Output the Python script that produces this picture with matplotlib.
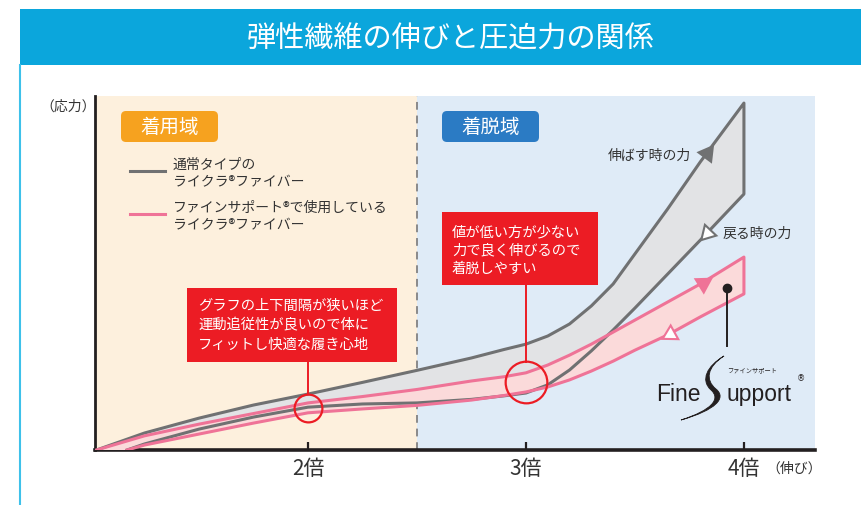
import numpy as np
import matplotlib.pyplot as plt
from matplotlib.patches import Rectangle, FancyBboxPatch, PathPatch
from matplotlib.path import Path

plt.rcParams['font.family'] = ['Noto Sans CJK JP', 'DejaVu Sans']

W, H = 862, 506

# 伸び (倍) / 応力 (relative 0-100)
x_pull = [1.03, 1.25, 1.5, 1.75, 2.0, 2.25, 2.5, 2.75, 2.9, 3.0, 3.1, 3.2, 3.3, 3.4, 3.5, 3.65, 3.8, 4.0]
lycra_pull = [0.0, 4.8, 9.0, 12.7, 15.8, 19.1, 22.5, 26.0, 28.4, 29.9, 32.2, 35.6, 40.7, 46.9, 55.4, 68.1, 81.4, 98.0]
fine_pull = [0.0, 4.0, 7.3, 10.3, 13.3, 15.1, 17.1, 19.5, 20.7, 21.8, 24.0, 26.8, 29.9, 33.3, 36.7, 41.8, 46.9, 54.5]

x_back = [1.17, 1.25, 1.5, 1.75, 2.0, 2.25, 2.5, 2.75, 2.9, 3.0, 3.1, 3.2, 3.3, 3.4, 3.5, 3.65, 3.8, 4.0]
lycra_back = [0.0, 1.7, 5.9, 9.3, 12.1, 13.0, 13.3, 14.3, 15.3, 16.1, 18.4, 22.6, 28.0, 33.9, 40.1, 49.7, 59.3, 72.3]
fine_back = [0.0, 1.4, 4.5, 7.6, 10.5, 11.6, 12.6, 14.1, 15.4, 16.4, 17.8, 19.8, 22.3, 25.1, 28.2, 32.5, 37.6, 44.1]

tick_pos = [2, 3, 4]
tick_labels = ['2倍', '3倍', '4倍']
zone_split = 2.5
callout_x = [2.0, 3.0]

GRAY = '#707172'
GRAY_FILL = '#e2e3e5'
PINK = '#ef7397'
PINK_FILL = '#fbdada'
RED = '#ec1c24'
TXT = '#333333'

fig = plt.figure(figsize=(W / 100, H / 100), dpi=100)
fig.patch.set_facecolor('white')

ax = fig.add_axes([95 / W, 1 - 451 / H, 720 / W, 354 / H])
ax.set_xlim(1.023, 4.326)
ax.set_ylim(0, 100)
ax.axvspan(1.023, zone_split, color='#fdf0dd', lw=0, zorder=0)
ax.axvspan(zone_split, 4.326, color='#dfebf7', lw=0, zorder=0)
ax.axvline(zone_split, color='#8a8a8a', lw=1.4, ls=(0, (4, 3)), zorder=1)

# bands: pull curve, vertical edge at 4倍, back curve
gx = x_pull + x_back[::-1]
gy = lycra_pull + lycra_back[::-1]
px_ = x_pull + x_back[::-1]
py_ = fine_pull + fine_back[::-1]
ax.fill(gx, gy, color=GRAY_FILL, lw=0, zorder=2)
ax.fill(px_, py_, color=PINK_FILL, lw=0, zorder=3)
ax.plot(gx, gy, color=GRAY, lw=2.2, zorder=4, solid_joinstyle='round')
ax.plot(px_, py_, color=PINK, lw=2.2, zorder=5, solid_joinstyle='round')


def arrow(xs, ys, x0, backward, fc, ec):
    y0 = np.interp(x0, xs, ys)
    y1 = np.interp(x0 + 0.02, xs, ys)
    p0 = ax.transData.transform((x0, y0))
    p1 = ax.transData.transform((x0 + 0.02, y1))
    ang = np.degrees(np.arctan2(p1[1] - p0[1], p1[0] - p0[0]))
    if backward:
        ang += 180
    ax.plot([x0], [y0], marker=(3, 0, ang - 90), ms=13, mfc=fc, mec=ec,
            mew=1.5, zorder=7, ls='none')


arrow(x_pull, lycra_pull, 3.83, False, GRAY, GRAY)
arrow(x_back, lycra_back, 3.83, True, 'white', GRAY)
arrow(x_pull, fine_pull, 3.81, False, PINK, PINK)
arrow(x_back, fine_back, 3.66, True, 'white', PINK)

# red circles + callout lines
box_bottoms = [25.1, 46.9]
for cx, size, bb in zip(callout_x, [20, 30], box_bottoms):
    cy = (np.interp(cx, x_pull, fine_pull) + np.interp(cx, x_back, fine_back)) / 2
    ax.plot([cx], [cy], marker='o', ms=size, mfc='none', mec=RED, mew=1.6, zorder=8)
    r = size / 0.72 / 2 / 3.54
    ax.plot([cx, cx], [cy + r, bb], color=RED, lw=1.4, zorder=8)

for s in ['top', 'right']:
    ax.spines[s].set_visible(False)
ax.spines['left'].set_linewidth(2)
ax.spines['left'].set_color('#231f20')
ax.spines['bottom'].set_linewidth(2.6)
ax.spines['bottom'].set_color('#231f20')
ax.set_yticks([])
ax.set_xticks(tick_pos)
ax.set_xticklabels(tick_labels, fontsize=15, color=TXT)
ax.tick_params(axis='x', direction='in', length=6, width=1.6, color='#231f20', pad=5)

# overlay in pixel coordinates for the decorations
ov = fig.add_axes([0, 0, 1, 1], zorder=10)
ov.set_xlim(0, W)
ov.set_ylim(H, 0)
ov.axis('off')

ov.add_patch(Rectangle((20, 10), W - 20, 56, color='#0ba6dc', lw=0))
ov.plot([20.5, 20.5], [66, H], color='#3ec1ea', lw=1.5)
ov.text(451, 40, '弾性繊維の伸びと圧迫力の関係', color='white', fontsize=21,
        ha='center', va='center')

ov.text(68, 107, '（応力）', fontsize=10, color=TXT, ha='center', va='center')
ov.text(794, 469, '（伸び）', fontsize=10, color=TXT, ha='center', va='center')

for x0, label, c in [(121, '着用域', '#f6a21f'), (442, '着脱域', '#2b7bc4')]:
    ov.add_patch(FancyBboxPatch((x0 + 5, 117), 87, 21, boxstyle='round,pad=5',
                                fc=c, ec='none'))
    ov.text(x0 + 48.5, 127.5, label, color='white', fontsize=14, ha='center', va='center')

# legend
ov.plot([130, 165], [172, 172], color=GRAY, lw=2.2)
ov.text(173, 165, '通常タイプの', fontsize=10, color=TXT, va='center')
ov.text(173, 182, 'ライクラ®ファイバー', fontsize=10, color=TXT, va='center')
ov.plot([130, 165], [215, 215], color=PINK, lw=2.2)
ov.text(173, 208, 'ファインサポート®で使用している', fontsize=10, color=TXT, va='center')
ov.text(173, 225, 'ライクラ®ファイバー', fontsize=10, color=TXT, va='center')

# callout boxes
ov.add_patch(Rectangle((187, 289), 210, 74, color=RED, lw=0))
for i, line in enumerate(['グラフの上下間隔が狭いほど', '運動追従性が良いので体に', 'フィットし快適な履き心地']):
    ov.text(198, 306 + 19.5 * i, line, color='white', fontsize=10.3, va='center')
ov.add_patch(Rectangle((442, 213), 156, 73, color=RED, lw=0))
for i, line in enumerate(['値が低い方が少ない', '力で良く伸びるので', '着脱しやすい']):
    ov.text(452, 232 + 18.5 * i, line, color='white', fontsize=10.3, va='center')

ov.text(691, 156, '伸ばす時の力', fontsize=10, color=TXT, ha='right', va='center')
ov.text(723, 234, '戻る時の力', fontsize=10, color=TXT, ha='left', va='center')

# Fine Support logo
logo_font = ['Liberation Sans', 'DejaVu Sans']
ov.plot([727, 727], [289, 347], color='#231f20', lw=1.4)
ov.plot([727], [289], marker='o', ms=6, color='#231f20')
ov.text(656, 401, 'Fine', fontsize=16.5, color='#231f20', va='baseline', family=logo_font)
ov.text(727, 401, 'upport', fontsize=16.5, color='#231f20', va='baseline', family=logo_font)
ov.text(797, 379, '®', fontsize=6, color='#231f20', va='center', family='DejaVu Sans')
ov.text(752, 370, 'ファインサポート', fontsize=4.5, color='#231f20', ha='center', va='center')
verts = [(724, 357), (707, 368), (705, 381), (716, 390),
         (727, 399), (716, 411), (681, 421),
         (712, 411), (721, 400), (711, 391),
         (700, 381), (707, 367), (724, 357)]
codes = [Path.MOVETO] + [Path.CURVE4] * 12
ov.add_patch(PathPatch(Path(verts, codes), fc='#231f20', ec='#231f20', lw=0.6))

fig.savefig('out.png', dpi=100)
